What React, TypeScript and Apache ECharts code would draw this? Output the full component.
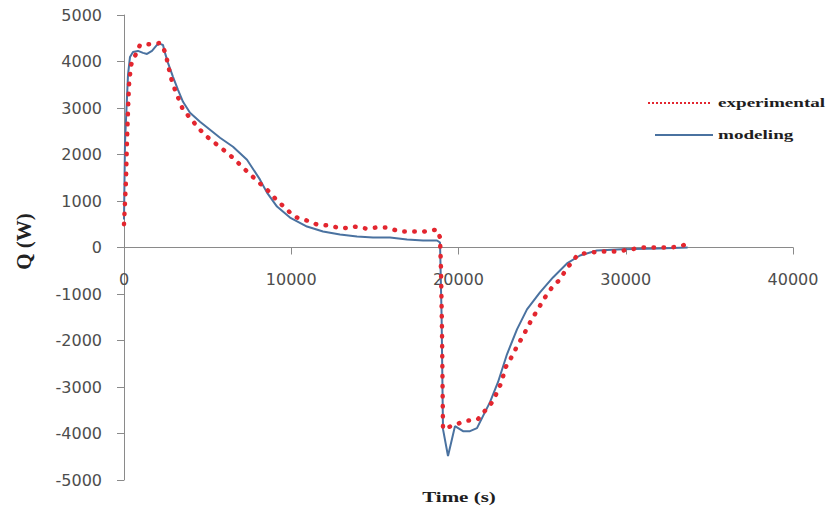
import React, { useEffect, useRef } from "react";
import * as echarts from "echarts";

// Time (s) and heat rate Q (W)
const modelTime = [
  0, 60, 180, 240, 359, 539, 837, 1136, 1375, 1674, 1973, 2152, 2332, 2451, 2630,
  2929, 3229, 3528, 3946, 4544, 5143, 5740, 6518, 7354, 8132, 8550, 9148, 9925,
  10942, 11899, 12915, 13932, 14888, 15904, 16921, 17878, 18715, 18895, 18990,
  19073, 19372, 19611, 19790, 20269, 20687, 21106, 21464, 21883, 22361, 22899,
  23497, 24095, 24872, 25649, 26486, 27263, 28279, 29800, 31900, 33700,
];
const modelQ = [
  600, 2253, 3240, 3713, 4099, 4206, 4228, 4185, 4163, 4228, 4356, 4378, 4356, 4185,
  3970, 3670, 3391, 3133, 2897, 2704, 2532, 2361, 2167, 1888, 1459, 1180, 880, 644,
  451, 343, 279, 236, 215, 215, 172, 150, 150, 107, -1500, -3906, -4485, -4120,
  -3841, -3949, -3949, -3884, -3627, -3326, -2897, -2296, -1760, -1330, -966, -644,
  -343, -172, -64, -40, -20, 0,
];

const expTime = [
  0, 120, 180, 239, 299, 419, 957, 1734, 2152, 2332, 2511, 2631, 2810, 3049, 3288,
  3528, 4006, 4424, 4962, 5560, 6158, 6636, 7114, 8012, 8670, 9148, 9686, 10164,
  10942, 11540, 12257, 13034, 13752, 14469, 15067, 15725, 16502, 17220, 17937,
  18715, 18895, 18955, 19014, 19073, 20389, 21166, 22063, 22600, 22780, 23198,
  23557, 23856, 24155, 24454, 24813, 25171, 25590, 26068, 26427, 27144, 27861,
  28639, 29476, 30253, 31030, 31867, 32645, 33243, 33721,
];
const expQ = [
  500, 1459, 2318, 2961, 3498, 3927, 4356, 4378, 4399, 4313, 4142, 3927, 3648, 3391,
  3176, 2961, 2768, 2575, 2382, 2210, 2039, 1888, 1717, 1416, 1202, 1009, 837, 665,
  579, 494, 472, 408, 451, 408, 429, 429, 343, 343, 343, 386, 215, -500, -1800,
  -3906, -3734, -3691, -3305, -2876, -2597, -2339, -2082, -1910, -1695, -1502,
  -1288, -1073, -858, -687, -472, -150, -107, -86, -86, -43, 0, 0, 0, 21, 86,
];

const seriesNames = ["experimental", "modeling"];
const xTitle = "Time (s)";
const yTitle = "Q (W)";

const RED = "#e3262f";
const BLUE = "#4a72a0";

export default function App() {
  const ref = useRef<HTMLDivElement>(null);

  useEffect(() => {
    document.body.style.margin = "0";
    if (!ref.current) return;
    const chart = echarts.init(ref.current, undefined, { renderer: "svg" });
    const modelData = modelTime.map((t, i) => [t, modelQ[i]]);
    const expData = expTime.map((t, i) => [t, expQ[i]]);
    const tickLabel = {
      fontFamily: "DejaVu Sans",
      fontSize: 16,
      color: "#4d4d4d",
      formatter: (v: number) => String(v),
    };
    const gridTop = 15;
    const gridBottom = 28;
    const gridHeight = 508 - gridTop - gridBottom;
    chart.setOption({
      animation: false,
      backgroundColor: "#ffffff",
      grid: {
        left: 124,
        right: 37,
        top: gridTop,
        bottom: gridBottom,
        containLabel: false,
        outerBoundsMode: "none",
      },
      xAxis: {
        type: "value",
        min: 0,
        max: 40000,
        interval: 10000,
        offset: -gridHeight / 2,
        axisLine: { show: true, onZero: false, lineStyle: { color: "#8a8a8a", width: 1 } },
        axisTick: { show: true, length: 7, lineStyle: { color: "#8a8a8a" } },
        axisLabel: { ...tickLabel, margin: 24 },
        splitLine: { show: false },
      },
      yAxis: {
        type: "value",
        min: -5000,
        max: 5000,
        interval: 1000,
        name: yTitle,
        nameLocation: "middle",
        nameGap: 90,
        nameRotate: 90,
        nameTextStyle: {
          fontFamily: "Liberation Serif",
          fontWeight: "bold",
          fontSize: 21,
          color: "#222222",
          padding: [0, 0, 0, 12],
        },
        axisLine: { show: true, onZero: false, lineStyle: { color: "#8a8a8a", width: 1 } },
        axisTick: { show: true, length: 7, lineStyle: { color: "#8a8a8a" } },
        axisLabel: { ...tickLabel, margin: 22 },
        splitLine: { show: false },
      },
      series: [
        {
          name: seriesNames[1],
          type: "line",
          data: modelData,
          symbol: "none",
          showSymbol: false,
          lineStyle: { color: BLUE, width: 2 },
          z: 2,
        },
        {
          name: seriesNames[0],
          type: "line",
          data: expData,
          symbol: "none",
          showSymbol: false,
          lineStyle: { color: RED, width: 4.5, type: [0.5, 9.5], cap: "round" },
          z: 3,
        },
      ],
      graphic: [
        {
          type: "line",
          shape: { x1: 648, y1: 103, x2: 710, y2: 103 },
          style: { stroke: RED, lineWidth: 2, lineDash: [2, 2] },
        },
        {
          type: "text",
          x: 718,
          y: 103,
          scaleX: 1.47,
          style: {
            text: seriesNames[0],
            fontFamily: "Liberation Serif",
            fontWeight: "bold",
            fontSize: 13,
            fill: "#1e1e1e",
            verticalAlign: "middle",
          },
        },
        {
          type: "line",
          shape: { x1: 655, y1: 135, x2: 713, y2: 135 },
          style: { stroke: BLUE, lineWidth: 2 },
        },
        {
          type: "text",
          x: 718,
          y: 135,
          scaleX: 1.47,
          style: {
            text: seriesNames[1],
            fontFamily: "Liberation Serif",
            fontWeight: "bold",
            fontSize: 13,
            fill: "#1e1e1e",
            verticalAlign: "middle",
          },
        },
        {
          type: "text",
          x: 459,
          y: 497,
          scaleX: 1.5,
          style: {
            text: xTitle,
            fontFamily: "Liberation Serif",
            fontWeight: "bold",
            fontSize: 14,
            fill: "#1e1e1e",
            textAlign: "center",
            verticalAlign: "middle",
          },
        },
      ],
    });
    return () => chart.dispose();
  }, []);

  return <div ref={ref} style={{ width: 830, height: 508 }} />;
}
